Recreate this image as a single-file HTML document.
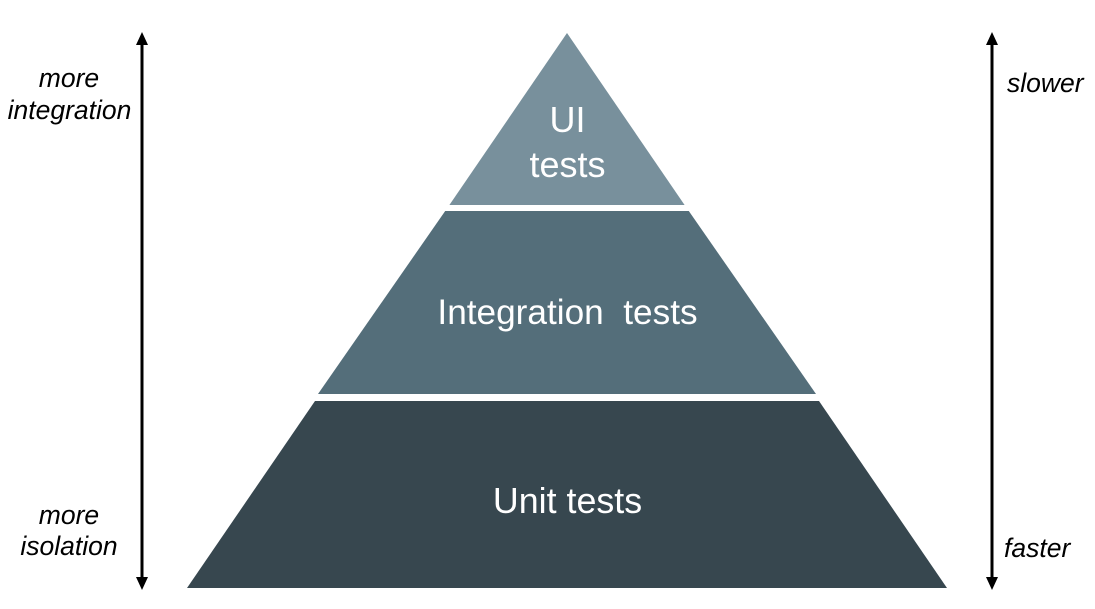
<!DOCTYPE html>
<html>
<head>
<meta charset="utf-8">
<style>
  html, body { margin:0; padding:0; background:#ffffff; }
  svg { display:block; }
</style>
</head>
<body>
<svg width="1095" height="609" viewBox="0 0 1095 609" xmlns="http://www.w3.org/2000/svg">
  <rect width="1095" height="609" fill="#ffffff"/>
  <!-- Pyramid tiers -->
  <polygon points="567,33 684.6,205 449.4,205" fill="#78909c"/>
  <polygon points="445.2,211 688.8,211 816,394 318,394" fill="#546e7a"/>
  <polygon points="315,401 819,401 947,588 187,588" fill="#37474f"/>

  <!-- Tier labels -->
  <g font-family="Liberation Sans, Arial, sans-serif" fill="#ffffff" text-anchor="middle">
    <text x="567.5" y="132" font-size="36">UI</text>
    <text x="567.5" y="177" font-size="36">tests</text>
    <text x="567.5" y="324" font-size="35.2" xml:space="preserve">Integration  tests</text>
    <text x="567.5" y="513" font-size="35.8">Unit tests</text>
  </g>

  <!-- Left arrow -->
  <line x1="142" y1="42" x2="142" y2="580" stroke="#000" stroke-width="3"/>
  <polygon points="142,32 136,45 148,45" fill="#000"/>
  <polygon points="142,590 136,577 148,577" fill="#000"/>

  <!-- Right arrow -->
  <line x1="992" y1="42" x2="992" y2="580" stroke="#000" stroke-width="3"/>
  <polygon points="992,32 986,45 998,45" fill="#000"/>
  <polygon points="992,590 986,577 998,577" fill="#000"/>

  <!-- Side labels -->
  <g font-family="Liberation Sans, Arial, sans-serif" font-style="italic" font-size="26.5" fill="#000">
    <text x="69" y="87" text-anchor="middle">more</text>
    <text x="69.5" y="119" text-anchor="middle">integration</text>
    <text x="69" y="524" text-anchor="middle">more</text>
    <text x="69" y="555" text-anchor="middle">isolation</text>
    <text x="1007" y="92">slower</text>
    <text x="1004" y="557">faster</text>
  </g>
</svg>
</body>
</html>
